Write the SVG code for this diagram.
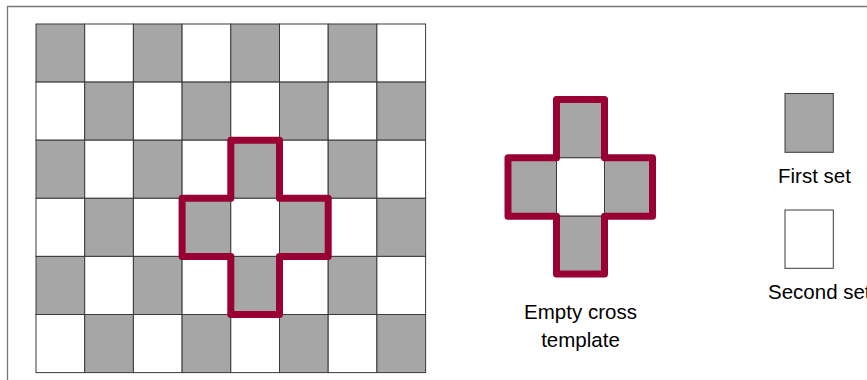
<svg xmlns="http://www.w3.org/2000/svg" width="867" height="380" viewBox="0 0 867 380">
<style>
.g{fill:#a6a6a6;stroke:#3a3a3a;stroke-width:1}
.w{fill:#ffffff;stroke:#3a3a3a;stroke-width:1}
.cross{fill:none;stroke:#990033;stroke-width:7;stroke-linejoin:round}
.lbl{font-family:"Liberation Sans",Arial,sans-serif;font-size:20.5px;fill:#000}
</style>
<defs>
<rect id="cg" class="g" width="48.7" height="58.1"/>
<rect id="cw" class="w" width="48.7" height="58.1"/>
</defs>
<rect width="867" height="380" fill="#fff"/>
<path d="M7.5,380 V6.5 H867" fill="none" stroke="#777" stroke-width="1.3"/>
<g id="board">
<g id="row0">
<use href="#cg" x="36" y="24"/><use href="#cw" x="84.7" y="24"/><use href="#cg" x="133.4" y="24"/><use href="#cw" x="182.1" y="24"/><use href="#cg" x="230.8" y="24"/><use href="#cw" x="279.5" y="24"/><use href="#cg" x="328.2" y="24"/><use href="#cw" x="376.9" y="24"/>
</g>
<g id="row1">
<use href="#cw" x="36" y="82.1"/><use href="#cg" x="84.7" y="82.1"/><use href="#cw" x="133.4" y="82.1"/><use href="#cg" x="182.1" y="82.1"/><use href="#cw" x="230.8" y="82.1"/><use href="#cg" x="279.5" y="82.1"/><use href="#cw" x="328.2" y="82.1"/><use href="#cg" x="376.9" y="82.1"/>
</g>
<g id="row2">
<use href="#cg" x="36" y="140.2"/><use href="#cw" x="84.7" y="140.2"/><use href="#cg" x="133.4" y="140.2"/><use href="#cw" x="182.1" y="140.2"/><use href="#cg" x="230.8" y="140.2"/><use href="#cw" x="279.5" y="140.2"/><use href="#cg" x="328.2" y="140.2"/><use href="#cw" x="376.9" y="140.2"/>
</g>
<g id="row3">
<use href="#cw" x="36" y="198.3"/><use href="#cg" x="84.7" y="198.3"/><use href="#cw" x="133.4" y="198.3"/><use href="#cg" x="182.1" y="198.3"/><use href="#cw" x="230.8" y="198.3"/><use href="#cg" x="279.5" y="198.3"/><use href="#cw" x="328.2" y="198.3"/><use href="#cg" x="376.9" y="198.3"/>
</g>
<g id="row4">
<use href="#cg" x="36" y="256.4"/><use href="#cw" x="84.7" y="256.4"/><use href="#cg" x="133.4" y="256.4"/><use href="#cw" x="182.1" y="256.4"/><use href="#cg" x="230.8" y="256.4"/><use href="#cw" x="279.5" y="256.4"/><use href="#cg" x="328.2" y="256.4"/><use href="#cw" x="376.9" y="256.4"/>
</g>
<g id="row5">
<use href="#cw" x="36" y="314.5"/><use href="#cg" x="84.7" y="314.5"/><use href="#cw" x="133.4" y="314.5"/><use href="#cg" x="182.1" y="314.5"/><use href="#cw" x="230.8" y="314.5"/><use href="#cg" x="279.5" y="314.5"/><use href="#cw" x="328.2" y="314.5"/><use href="#cg" x="376.9" y="314.5"/>
</g>
<path id="board-cross" class="cross" d="M230.8,140.2 H279.5 V198.3 H328.2 V256.4 H279.5 V314.5 H230.8 V256.4 H182.1 V198.3 H230.8 Z"/>
</g>
<g id="template">
<rect class="g" x="556.5" y="99.5" width="48" height="58.3"/>
<rect class="g" x="508" y="157.8" width="48.5" height="58.4"/>
<rect class="w" x="556.5" y="157.8" width="48" height="58.4"/>
<rect class="g" x="604.5" y="157.8" width="48" height="58.4"/>
<rect class="g" x="556.5" y="216.2" width="48" height="57.8"/>
<path class="cross" d="M556.5,99.5 H604.5 V157.8 H652.5 V216.2 H604.5 V274 H556.5 V216.2 H508 V157.8 H556.5 Z"/>
<text class="lbl" x="580.5" y="319" text-anchor="middle">Empty cross</text>
<text class="lbl" x="580.5" y="347" text-anchor="middle">template</text>
</g>
<g id="legend-first">
<rect class="g" x="785" y="93.5" width="48.3" height="58.8"/>
<text class="lbl" x="778" y="183">First set</text>
</g>
<g id="legend-second">
<rect class="w" x="785" y="210" width="48.3" height="58.3"/>
<text class="lbl" x="768" y="299">Second set</text>
</g>
</svg>
